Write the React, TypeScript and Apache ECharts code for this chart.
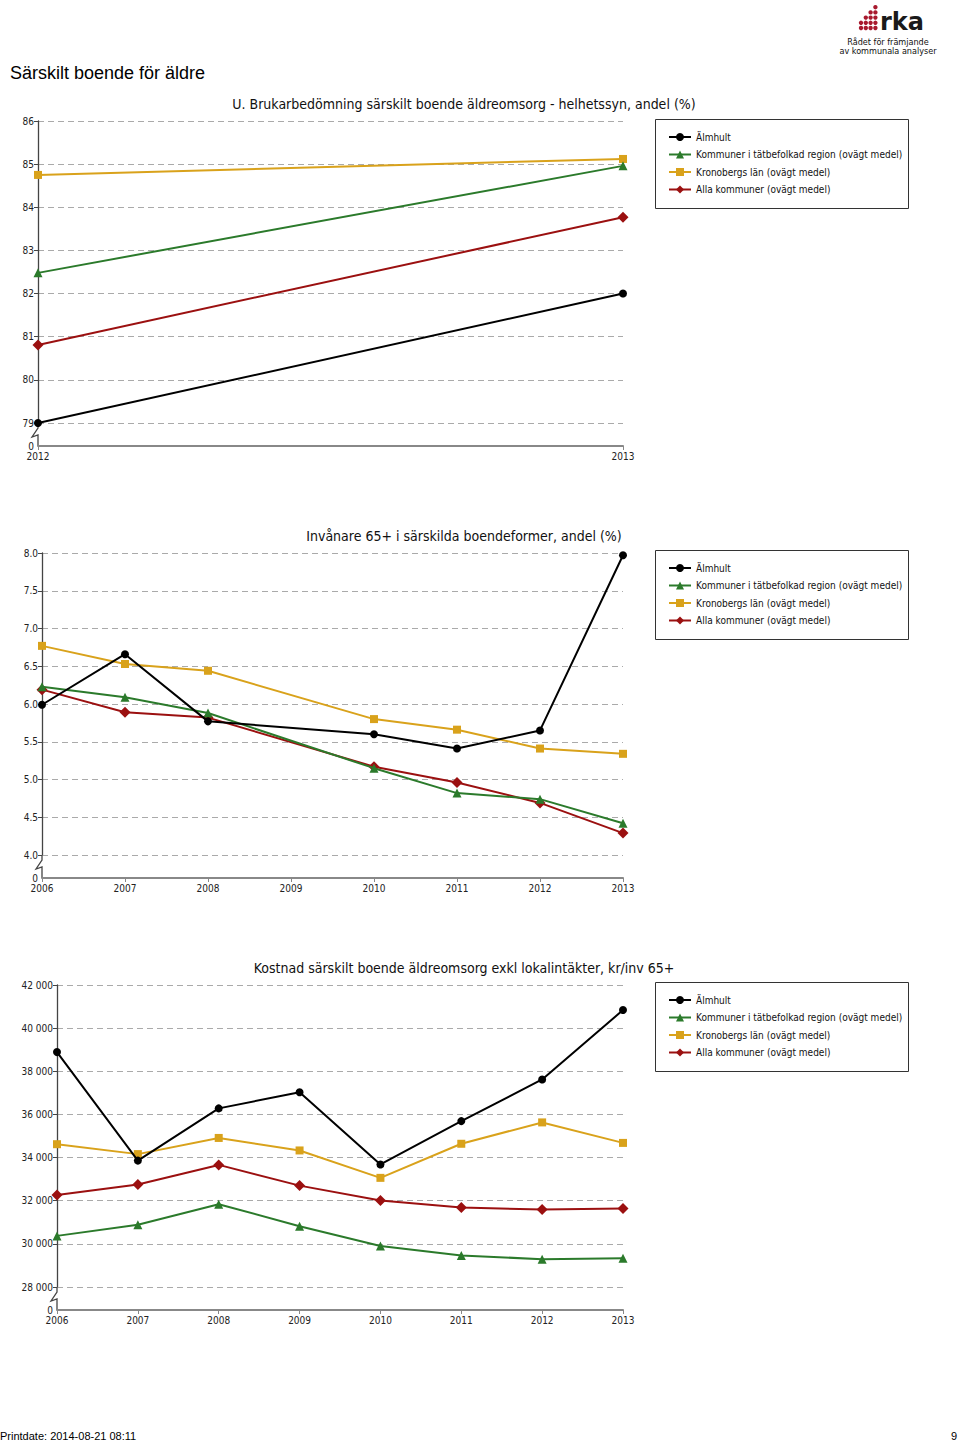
import React, { useEffect, useRef } from "react";
import * as echarts from "echarts";

const SERIES_NAMES = [
  "Älmhult",
  "Kommuner i tätbefolkad region (ovägt medel)",
  "Kronobergs län (ovägt medel)",
  "Alla kommuner (ovägt medel)",
];
const COLORS = ["#000000", "#2b7a2b", "#d9a21b", "#9b1010"];
const SYMBOLS = ["circle", "triangle", "rect", "diamond"];
const SYMBOL_SIZES = [8, 9, 8, 11];

// Chart 1
const YEARS1 = ["2012", "2013"];
const C1_ALMHULT = [79.0, 82.0];
const C1_TATBEF = [82.48, 84.96];
const C1_KRONO = [84.75, 85.12];
const C1_ALLA = [80.81, 83.77];

// Chart 2
const YEARS2 = ["2006", "2007", "2008", "2009", "2010", "2011", "2012", "2013"];
const C2_ALMHULT = [5.99, 6.66, 5.77, null, 5.6, 5.41, 5.65, 7.97];
const C2_TATBEF = [6.23, 6.09, 5.88, null, 5.15, 4.82, 4.74, 4.42];
const C2_KRONO = [6.77, 6.53, 6.44, null, 5.8, 5.66, 5.41, 5.34];
const C2_ALLA = [6.19, 5.89, 5.82, null, 5.17, 4.96, 4.69, 4.29];

// Chart 3
const YEARS3 = ["2006", "2007", "2008", "2009", "2010", "2011", "2012", "2013"];
const C3_ALMHULT = [38890, 33860, 36280, 37030, 33680, 35690, 37620, 40840];
const C3_TATBEF = [30370, 30890, 31840, 30820, 29900, 29460, 29290, 29330];
const C3_KRONO = [34620, 34160, 34910, 34330, 33060, 34640, 35630, 34680];
const C3_ALLA = [32260, 32750, 33660, 32700, 32010, 31680, 31590, 31640];

const TITLES = [
  "U. Brukarbedömning särskilt boende äldreomsorg - helhetssyn, andel (%)",
  "Invånare 65+ i särskilda boendeformer, andel (%)",
  "Kostnad särskilt boende äldreomsorg exkl lokalintäkter, kr/inv 65+",
];
const PAGE_TITLE = "Särskilt boende för äldre";
const FOOTER = "Printdate: 2014-08-21 08:11";
const PAGE_NO = "9";

const FONT = "'DejaVu Sans Condensed', 'DejaVu Sans', sans-serif";

const GRIDS = [
  { left: 38, top: 121, width: 585, height: 302 },
  { left: 42, top: 553, width: 581, height: 302 },
  { left: 57, top: 985, width: 566, height: 302 },
];
const BREAK_GAP = 23;
const LEGEND_TOPS = [119, 550, 982];

const fmtThousands = (v: number) =>
  String(v).replace(/\B(?=(\d{3})+(?!\d))/g, " ");

export default function App() {
  const ref = useRef<HTMLDivElement>(null);
  useEffect(() => {
    if (!ref.current) return;
    const chart = echarts.init(ref.current, undefined, { renderer: "svg" });

    const datasets = [
      [C1_ALMHULT, C1_TATBEF, C1_KRONO, C1_ALLA],
      [C2_ALMHULT, C2_TATBEF, C2_KRONO, C2_ALLA],
      [C3_ALMHULT, C3_TATBEF, C3_KRONO, C3_ALLA],
    ];
    const series: any[] = [];
    datasets.forEach((ds, gi) => {
      ds.forEach((d, si) => {
        series.push({
          type: "line",
          name: SERIES_NAMES[si],
          xAxisIndex: gi,
          yAxisIndex: gi,
          data: d,
          connectNulls: true,
          symbol: SYMBOLS[si],
          symbolSize: SYMBOL_SIZES[si],
          showAllSymbol: true,
          lineStyle: { color: COLORS[si], width: 2 },
          itemStyle: { color: COLORS[si] },
          z: 10 - si,
        });
      });
    });

    const xCats = [YEARS1, YEARS2, YEARS3];
    const xAxis = GRIDS.map((_, i) => ({
      type: "category",
      gridIndex: i,
      data: xCats[i],
      boundaryGap: false,
      offset: BREAK_GAP,
      axisLine: { lineStyle: { color: "#888", width: 2 } },
      axisTick: { show: true, length: 4, lineStyle: { color: "#888" } },
      axisLabel: { color: "#222", fontSize: 10, fontFamily: FONT, margin: 5 },
      splitLine: { show: false },
    }));

    const yConf = [
      { min: 79, max: 86, interval: 1, fmt: (v: number) => String(v) },
      { min: 4, max: 8, interval: 0.5, fmt: (v: number) => v.toFixed(1) },
      { min: 28000, max: 42000, interval: 2000, fmt: fmtThousands },
    ];
    const yAxis = yConf.map((c, i) => ({
      type: "value",
      gridIndex: i,
      min: c.min,
      max: c.max,
      interval: c.interval,
      axisLine: { show: true, lineStyle: { color: "#444", width: 1.3 } },
      axisTick: { show: true, length: 4, lineStyle: { color: "#444" } },
      axisLabel: {
        color: "#222",
        fontSize: 10,
        fontFamily: FONT,
        margin: 4,
        formatter: c.fmt,
      },
      splitLine: {
        show: true,
        lineStyle: { color: "#aaa", type: [6, 4], width: 1 },
      },
    }));

    const legend = LEGEND_TOPS.map((t) => ({
      data: SERIES_NAMES,
      orient: "vertical",
      left: 668,
      top: t + 13,
      itemWidth: 22,
      itemHeight: 10,
      itemGap: 7.5,
      padding: 0,
      selectedMode: false,
      textStyle: { fontSize: 10, color: "#111", fontFamily: FONT },
    }));

    const graphic: any[] = [];
    // legend boxes
    LEGEND_TOPS.forEach((t) => {
      graphic.push({
        type: "rect",
        shape: { x: 655.5, y: t + 0.5, width: 253, height: 89 },
        style: { fill: "none", stroke: "#333", lineWidth: 1 },
        silent: true,
      });
    });
    // axis breaks and "0" labels
    GRIDS.forEach((g) => {
      const x = g.left;
      const yTop = g.top + g.height;
      const yBot = yTop + BREAK_GAP;
      graphic.push({
        type: "polyline",
        shape: {
          points: [
            [x, yTop],
            [x, yTop + 5],
            [x - 6, yTop + 14],
            [x, yTop + 12],
            [x, yBot],
          ],
        },
        style: { stroke: "#444", lineWidth: 1.3, fill: "none" },
        silent: true,
      });
      graphic.push({
        type: "text",
        x: x - 4,
        y: yBot,
        style: {
          text: "0",
          fontSize: 10,
          fontFamily: FONT,
          fill: "#222",
          align: "right",
          verticalAlign: "middle",
        },
      });
    });
    // chart titles
    const titleYs = [104, 536, 968];
    TITLES.forEach((t, i) => {
      graphic.push({
        type: "text",
        x: 464,
        y: titleYs[i],
        style: {
          text: t,
          fontSize: 14,
          fontFamily: FONT,
          fill: "#111",
          align: "center",
          verticalAlign: "middle",
        },
      });
    });
    // page title
    graphic.push({
      type: "text",
      x: 10,
      y: 73,
      style: {
        text: PAGE_TITLE,
        fontSize: 18,
        fontFamily: "'Liberation Sans', Arial, sans-serif",
        fill: "#000",
        align: "left",
        verticalAlign: "middle",
      },
    });
    // footer
    graphic.push({
      type: "text",
      x: 0,
      y: 1436,
      style: {
        text: FOOTER,
        fontSize: 11,
        fontFamily: "'Liberation Sans Narrow', 'Liberation Sans', Arial, sans-serif",
        fill: "#000",
        align: "left",
        verticalAlign: "middle",
      },
    });
    graphic.push({
      type: "text",
      x: 957,
      y: 1436,
      style: {
        text: PAGE_NO,
        fontSize: 11,
        fontFamily: "'Liberation Sans Narrow', 'Liberation Sans', Arial, sans-serif",
        fill: "#000",
        align: "right",
        verticalAlign: "middle",
      },
    });
    // logo
    const colH = [2, 3, 4, 5];
    colH.forEach((h, ci) => {
      for (let r = 0; r < h; r++) {
        graphic.push({
          type: "circle",
          shape: { cx: 861 + ci * 4.8, cy: 28 - r * 5.2, r: 2.2 },
          style: { fill: "#a8192e" },
          silent: true,
        });
      }
    });
    graphic.push({
      type: "text",
      x: 880,
      y: 22,
      style: {
        text: "rka",
        fontSize: 24,
        fontWeight: "bold",
        fontFamily: "'DejaVu Sans', sans-serif",
        fill: "#1a1a1a",
        align: "left",
        verticalAlign: "middle",
      },
    });
    graphic.push({
      type: "text",
      x: 888,
      y: 42,
      style: {
        text: "Rådet för främjande",
        fontSize: 9,
        fontFamily: FONT,
        fill: "#111",
        align: "center",
        verticalAlign: "middle",
      },
    });
    graphic.push({
      type: "text",
      x: 888,
      y: 51,
      style: {
        text: "av kommunala analyser",
        fontSize: 9,
        fontFamily: FONT,
        fill: "#111",
        align: "center",
        verticalAlign: "middle",
      },
    });

    chart.setOption({
      animation: false,
      backgroundColor: "#ffffff",
      grid: GRIDS.map((g) => ({ ...g, containLabel: false })),
      xAxis,
      yAxis,
      legend,
      series,
      graphic,
    });
    return () => chart.dispose();
  }, []);
  return (
    <div
      ref={ref}
      style={{ position: "absolute", left: 0, top: 0, width: 960, height: 1442 }}
    />
  );
}
